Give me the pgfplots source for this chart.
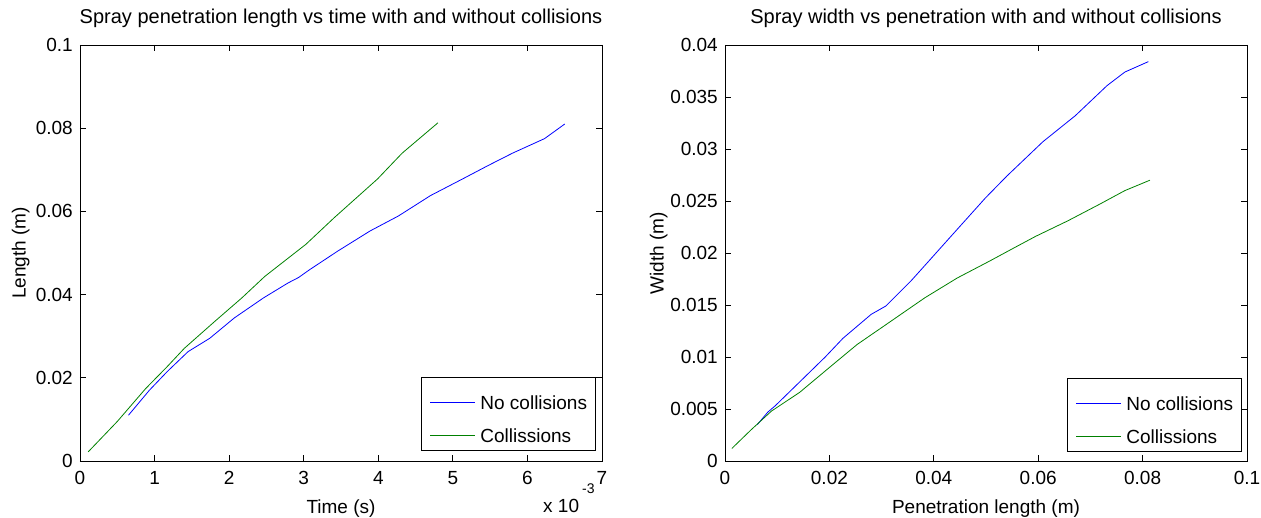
\documentclass[border=0pt]{standalone}
\usepackage{fontspec}
\setmainfont{Liberation Sans}
\usepackage{pgfplots}
\pgfplotsset{compat=1.18}
\definecolor{mblue}{rgb}{0,0,1}
\definecolor{mgreen}{rgb}{0,0.5,0}
\newcommand{\mfont}{\fontsize{19}{22}\selectfont}
\newcommand{\tfont}{\fontsize{20}{23}\selectfont}
\pgfplotsset{
  mstyle/.style={
    width=522pt, height=416pt, scale only axis,
    scaled x ticks=false, scaled y ticks=false,
    axis line style={line width=0.8pt, black},
    tick style={line width=0.8pt, black},
    major tick length=6pt,
    tick align=inside,
    xtick pos=both, ytick pos=both,
    tick label style={font=\mfont},
    xticklabel style={anchor=north, inner sep=0pt, yshift=-10pt},
    yticklabel style={anchor=east, inner sep=0pt, xshift=-7pt},
    every axis title/.style={at={(axis description cs:0.5,1)}, anchor=base, yshift=21pt, font=\tfont},
    every axis x label/.style={at={(axis description cs:0.5,0)}, anchor=base, yshift=-52pt, font=\mfont},
    legend style={anchor=south east, draw=black, line width=0.8pt,
      inner xsep=8.5pt, inner ysep=3.5pt, row sep=0pt, column sep=5pt,
      nodes={inner sep=0pt, text height=28pt, text depth=5pt, anchor=base west},
      font=\mfont},
    legend cell align=left,
    legend image code/.code={\draw[#1] (0pt,7pt) -- (45pt,7pt);},
  }
}
\begin{document}
\begin{tikzpicture}
\path[use as bounding box] (-80pt,-56pt) rectangle (1181pt,461pt);
\begin{axis}[mstyle,
  at={(0pt,0pt)}, anchor=south west,
  xmin=0, xmax=7, ymin=0, ymax=0.1,
  xtick={0,1,2,3,4,5,6,7}, xticklabels={0,1,2,3,4,5,6,7},
  ytick={0,0.02,0.04,0.06,0.08,0.1}, yticklabels={0,0.02,0.04,0.06,0.08,0.1},
  title={Spray penetration length vs time with and without collisions},
  xlabel={Time (s)},
  ylabel={Length (m)},
  every axis y label/.style={at={(axis description cs:-0.1042,0.5)}, rotate=90, anchor=base, font=\mfont},
  legend style={at={(axis description cs:1,0)}, xshift=-6pt, yshift=10pt},
]
\addplot[mblue, line width=0.8pt] coordinates {
(0.65,0.0110) (0.93,0.0170) (1.17,0.0215) (1.45,0.0263) (1.74,0.0295)
(2.07,0.0344) (2.46,0.0392) (2.79,0.0428) (2.93,0.0441) (3.08,0.0460)
(3.46,0.0505) (3.89,0.0553) (4.27,0.0589) (4.70,0.0638) (5.13,0.0678)
(5.47,0.0710) (5.80,0.0740) (6.23,0.0775) (6.50,0.0810)
};
\addlegendentry{No collisions}
\addplot[mgreen, line width=0.8pt] coordinates {
(0.11,0.0022) (0.50,0.0095) (0.88,0.0174) (1.17,0.0227) (1.40,0.0271)
(1.81,0.0336) (2.17,0.0392) (2.48,0.0444) (3.03,0.0521) (3.41,0.0585)
(3.99,0.0678) (4.32,0.0740) (4.80,0.0813)
};
\addlegendentry{Collissions}
\end{axis}
\node[anchor=base west, font=\mfont, inner sep=0pt] at (463pt,-51pt) {x 10};
\node[anchor=base west, font=\fontsize{14}{16}\selectfont, inner sep=0pt] at (502pt,-32pt) {-3};
\begin{axis}[mstyle,
  at={(645pt,0pt)}, anchor=south west,
  xmin=0, xmax=0.1, ymin=0, ymax=0.04,
  xtick={0,0.02,0.04,0.06,0.08,0.1}, xticklabels={0,0.02,0.04,0.06,0.08,0.1},
  ytick={0,0.005,0.01,0.015,0.02,0.025,0.03,0.035,0.04},
  yticklabels={0,0.005,0.01,0.015,0.02,0.025,0.03,0.035,0.04},
  title={Spray width vs penetration with and without collisions},
  xlabel={Penetration length (m)},
  ylabel={Width (m)},
  every axis y label/.style={at={(axis description cs:-0.1176,0.5)}, rotate=90, anchor=base, font=\mfont},
  legend style={at={(axis description cs:1,0)}, xshift=-5pt, yshift=9pt},
]
\addplot[mblue, line width=0.8pt] coordinates {
(0.0062,0.0035) (0.0082,0.0047) (0.0096,0.0053) (0.0143,0.0076) (0.0192,0.0100)
(0.0226,0.0118) (0.0280,0.0141) (0.0308,0.0149) (0.0356,0.0173) (0.0390,0.0192)
(0.0431,0.0215) (0.0499,0.0253) (0.0540,0.0274) (0.0609,0.0307) (0.0671,0.0332)
(0.0732,0.0361) (0.0766,0.0374) (0.0811,0.0384)
};
\addlegendentry{No collisions}
\addplot[mgreen, line width=0.8pt] coordinates {
(0.0013,0.0012) (0.0050,0.0030) (0.0089,0.0048) (0.0143,0.0066) (0.0205,0.0092)
(0.0253,0.0112) (0.0308,0.0131) (0.0383,0.0157) (0.0445,0.0176) (0.0506,0.0192)
(0.0554,0.0205) (0.0595,0.0216) (0.0657,0.0231) (0.0718,0.0247) (0.0766,0.0260)
(0.0814,0.0270)
};
\addlegendentry{Collissions}
\end{axis}
\end{tikzpicture}
\end{document}
